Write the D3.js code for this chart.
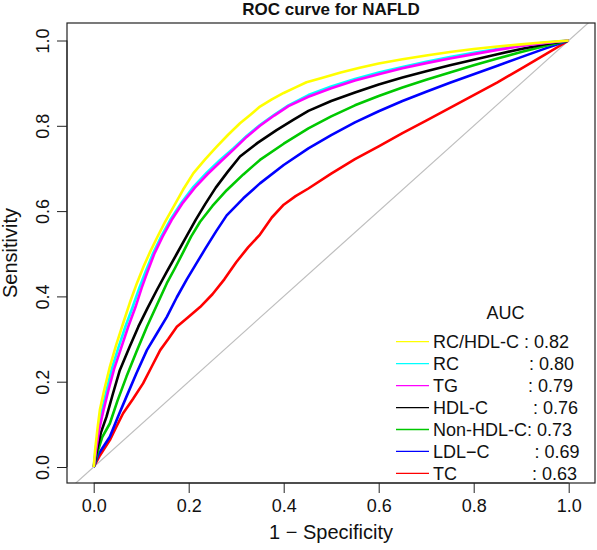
<!DOCTYPE html>
<html><head><meta charset="utf-8">
<script src="https://cdn.jsdelivr.net/npm/d3@7"></script>
<style>body{margin:0;background:#fff}svg{display:block;font-family:"Liberation Sans",Arial,sans-serif}</style>
</head><body><svg id="c" width="597" height="550"></svg>
<script>
const title = "ROC curve for NAFLD";
const xLabel = "1 \u2212 Specificity";
const yLabel = "Sensitivity";
const ticks = [0, 0.2, 0.4, 0.6, 0.8, 1.0];
const tickLabels = ["0.0", "0.2", "0.4", "0.6", "0.8", "1.0"];
const legendTitle = "AUC";
const seriesNames = ["RC/HDL-C", "RC", "TG", "HDL-C", "Non-HDL-C", "LDL\u2212C", "TC"];
const legendLabels = ["RC/HDL-C : 0.82", "RC              : 0.80", "TG              : 0.79", "HDL-C         : 0.76", "Non-HDL-C: 0.73", "LDL\u2212C         : 0.69", "TC               : 0.63"];
const aucValues = [0.82, 0.80, 0.79, 0.76, 0.73, 0.69, 0.63];
const colors = ["#ffff00", "#00ffff", "#ff00ff", "#000000", "#00c800", "#0000ff", "#ff0000"];

const fprRCHDL = [0,0.003,0.008,0.013,0.022,0.034,0.047,0.062,0.076,0.091,0.105,0.119,0.133,0.150,0.168,0.188,0.210,0.235,0.259,0.283,0.308,0.330,0.350,0.375,0.400,0.425,0.448,0.48,0.52,0.56,0.60,0.65,0.70,0.75,0.80,0.85,0.90,0.95,1];
const tprRCHDL = [0,0.040,0.090,0.134,0.180,0.235,0.285,0.337,0.385,0.431,0.470,0.505,0.537,0.574,0.610,0.650,0.689,0.722,0.751,0.779,0.806,0.826,0.845,0.862,0.877,0.890,0.902,0.912,0.925,0.936,0.946,0.956,0.965,0.973,0.980,0.986,0.991,0.996,1];
const fprRC = [0,0.004,0.010,0.017,0.027,0.038,0.052,0.067,0.082,0.096,0.110,0.125,0.142,0.161,0.185,0.210,0.238,0.266,0.295,0.322,0.350,0.38,0.41,0.452,0.50,0.55,0.60,0.65,0.70,0.75,0.80,0.85,0.90,0.95,1];
const tprRC = [0,0.040,0.090,0.130,0.180,0.230,0.280,0.330,0.375,0.420,0.460,0.501,0.540,0.579,0.620,0.657,0.690,0.720,0.748,0.776,0.802,0.826,0.848,0.872,0.892,0.910,0.925,0.938,0.950,0.961,0.971,0.980,0.988,0.995,1];
const fprTG = [0,0.005,0.012,0.020,0.031,0.043,0.058,0.073,0.088,0.101,0.114,0.128,0.145,0.164,0.188,0.213,0.240,0.268,0.296,0.322,0.350,0.38,0.41,0.452,0.50,0.55,0.60,0.65,0.70,0.75,0.80,0.85,0.90,0.95,1];
const tprTG = [0,0.040,0.090,0.130,0.180,0.230,0.280,0.330,0.375,0.420,0.460,0.501,0.540,0.579,0.620,0.655,0.687,0.717,0.746,0.774,0.800,0.824,0.846,0.868,0.888,0.906,0.921,0.935,0.947,0.958,0.968,0.978,0.987,0.994,1];
const fprHDL = [0,0.007,0.015,0.027,0.040,0.055,0.075,0.094,0.113,0.133,0.154,0.175,0.195,0.215,0.235,0.257,0.282,0.308,0.345,0.385,0.420,0.452,0.50,0.55,0.60,0.65,0.70,0.75,0.80,0.85,0.90,0.95,1];
const tprHDL = [0,0.040,0.080,0.118,0.170,0.227,0.280,0.329,0.372,0.415,0.458,0.500,0.540,0.580,0.617,0.655,0.692,0.728,0.760,0.790,0.814,0.835,0.858,0.878,0.897,0.913,0.928,0.942,0.955,0.968,0.980,0.991,1];
const fprNonHDL = [0,0.008,0.018,0.034,0.050,0.069,0.090,0.112,0.133,0.154,0.171,0.189,0.205,0.224,0.250,0.280,0.315,0.350,0.40,0.452,0.50,0.55,0.60,0.65,0.70,0.75,0.80,0.85,0.90,0.95,1];
const tprNonHDL = [0,0.035,0.070,0.102,0.155,0.212,0.270,0.329,0.380,0.431,0.466,0.505,0.540,0.575,0.612,0.649,0.686,0.720,0.758,0.794,0.822,0.848,0.870,0.890,0.908,0.925,0.942,0.958,0.973,0.987,1];
const fprLDL = [0,0.010,0.034,0.050,0.069,0.090,0.112,0.133,0.154,0.175,0.196,0.215,0.235,0.258,0.280,0.315,0.350,0.40,0.452,0.50,0.55,0.60,0.65,0.70,0.75,0.80,0.85,0.90,0.95,1];
const tprLDL = [0,0.030,0.071,0.115,0.165,0.220,0.274,0.313,0.352,0.398,0.440,0.475,0.512,0.553,0.590,0.630,0.665,0.708,0.747,0.778,0.808,0.834,0.858,0.880,0.901,0.921,0.941,0.961,0.981,1];
const fprTC = [0,0.012,0.034,0.048,0.062,0.083,0.104,0.122,0.140,0.157,0.175,0.200,0.224,0.250,0.275,0.300,0.325,0.350,0.375,0.400,0.425,0.452,0.50,0.55,0.60,0.65,0.70,0.75,0.80,0.85,0.90,0.95,1];
const tprTC = [0,0.025,0.063,0.095,0.126,0.160,0.196,0.235,0.274,0.300,0.329,0.352,0.375,0.405,0.440,0.480,0.515,0.545,0.585,0.615,0.635,0.653,0.688,0.722,0.752,0.783,0.812,0.842,0.872,0.902,0.934,0.967,1];

const fprs = [fprRCHDL, fprRC, fprTG, fprHDL, fprNonHDL, fprLDL, fprTC];
const tprs = [tprRCHDL, tprRC, tprTG, tprHDL, tprNonHDL, tprLDL, tprTC];

const svg = d3.select("#c");
const x = d3.scaleLinear().domain([0, 1]).range([93.7, 568.7]);
const y = d3.scaleLinear().domain([0, 1]).range([467, 40.5]);
const box = {x0: 67, x1: 595, y0: 23, y1: 483};

svg.append("defs").append("clipPath").attr("id", "clip").append("rect")
  .attr("x", box.x0).attr("y", box.y0).attr("width", box.x1 - box.x0).attr("height", box.y1 - box.y0);

// diagonal reference line
const xd = [x.invert(box.x0), x.invert(box.x1)];
svg.append("line").attr("clip-path", "url(#clip)")
  .attr("x1", x(xd[0])).attr("y1", y(xd[0])).attr("x2", x(xd[1])).attr("y2", y(xd[1]))
  .attr("stroke", "#bebebe").attr("stroke-width", 1.2);

const line = d3.line().x(d => x(d[0])).y(d => y(d[1]));
const order = [6, 5, 4, 3, 1, 2, 0];
order.forEach(i => {
  const pts = fprs[i].map((f, k) => [f, tprs[i][k]]);
  svg.append("path").datum(pts).attr("d", line).attr("fill", "none")
    .attr("stroke", colors[i]).attr("stroke-width", 2.6).attr("stroke-linejoin", "round");
});

svg.append("rect").attr("x", box.x0).attr("y", box.y0).attr("width", box.x1 - box.x0).attr("height", box.y1 - box.y0)
  .attr("fill", "none").attr("stroke", "#222").attr("stroke-width", 1.2);

const xAxis = d3.axisBottom(x).tickValues(ticks).tickFormat((d, i) => tickLabels[i]).tickSize(10).tickPadding(6);
const gx = svg.append("g").attr("transform", `translate(0,${box.y1})`).call(xAxis);
gx.select(".domain").attr("d", `M${x(0)},0H${x(1)}`).attr("stroke", "#222");
gx.selectAll(".tick line").attr("stroke", "#222");
gx.selectAll("text").attr("font-size", 18).attr("fill", "#111").attr("font-family", "Liberation Sans, Arial, sans-serif");

const yAxis = d3.axisLeft(y).tickValues(ticks).tickFormat((d, i) => tickLabels[i]).tickSize(10).tickPadding(6);
const gy = svg.append("g").attr("transform", `translate(${box.x0},0)`).call(yAxis);
gy.select(".domain").attr("d", `M0,${y(0)}V${y(1)}`).attr("stroke", "#222");
gy.selectAll(".tick line").attr("stroke", "#222");
gy.selectAll("text").attr("font-size", 18).attr("fill", "#111").attr("font-family", "Liberation Sans, Arial, sans-serif")
  .attr("x", null).attr("dy", null).attr("text-anchor", "middle")
  .attr("transform", "translate(-18,0) rotate(-90)");

svg.append("text").attr("x", (box.x0 + box.x1) / 2).attr("y", 15).attr("text-anchor", "middle")
  .attr("font-size", 17).attr("font-weight", "bold").attr("fill", "#111").text(title);
svg.append("text").attr("x", (box.x0 + box.x1) / 2).attr("y", 539).attr("text-anchor", "middle")
  .attr("font-size", 20).attr("fill", "#111").text(xLabel);
svg.append("text").attr("transform", `translate(17,${(box.y0 + box.y1) / 2}) rotate(-90)`).attr("text-anchor", "middle")
  .attr("font-size", 20).attr("fill", "#111").text(yLabel);

const lg = svg.append("g");
lg.append("text").attr("x", 505.5).attr("y", 318.5).attr("text-anchor", "middle").attr("font-size", 18).attr("fill", "#111").text(legendTitle);
legendLabels.forEach((lab, i) => {
  const cy = 341.7 + i * 21.95;
  lg.append("line").attr("x1", 396).attr("x2", 429).attr("y1", cy).attr("y2", cy).attr("stroke", colors[i]).attr("stroke-width", 1.3);
  lg.append("text").attr("x", 433).attr("y", cy + 6.4).attr("font-size", 18).attr("fill", "#111")
    .style("white-space", "pre").text(lab);
});
</script></body></html>
